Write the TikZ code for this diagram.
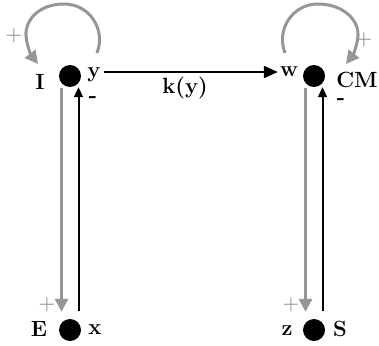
\documentclass[tikz,border=0pt]{standalone}
\usepackage{fontspec}
\usetikzlibrary{arrows.meta}
\definecolor{gr}{RGB}{150,150,150}
\begin{document}
\begin{tikzpicture}[x=1pt,y=-1pt,
  dot/.style={circle,fill=black,minimum size=22pt,inner sep=0pt},
  lab/.style={font=\fontsize{22}{26}\selectfont\bfseries,inner sep=0pt},
  sgn/.style={font=\fontsize{19}{22}\selectfont\bfseries,text=gr,inner sep=0pt},
  mns/.style={font=\fontsize{22}{26}\selectfont\bfseries,inner sep=0pt},
  garr/.style={draw=gr,line width=3pt,-{Triangle[length=13pt,width=13pt]}},
  barr/.style={draw=black,line width=2pt,-{Triangle[length=10pt,width=9pt]}},
  harr/.style={draw=black,line width=2pt,-{Triangle[length=14pt,width=12pt]}},
]
\useasboundingbox (0,0) rectangle (379,345);
% dots
\node[dot] (dI) at (70,76) {};
\node[dot] (dC) at (314,76) {};
\node[dot] (dE) at (70,330) {};
\node[dot] (dS) at (314,330) {};
% labels
\node[lab] (lI) at (40,82) {I};
\node[lab] (ly) at (94,75) {y};
\node[lab] (lw) at (289,72) {w};
\node[lab] (lCM) at (357,80) {CM};
\node[lab] (lE) at (39,329) {E};
\node[lab] (lx) at (95,330) {x};
\node[lab] (lz) at (287,331) {z};
\node[lab] (lS) at (340,329) {S};
\node[lab] (lk) at (185,88) {k(y)};
% signs
\node[sgn] (p1) at (14,36) {+};
\node[sgn] (p2) at (364,40) {+};
\node[sgn] (p3) at (47,305) {+};
\node[sgn] (p4) at (291,305) {+};
\node[mns] (m1) at (93,100) {-};
\node[mns] (m2) at (341,102) {-};
% self loops
\coordinate (s1) at (97,53);
\coordinate (e1) at (38,64);
\coordinate (s2) at (285,53);
\coordinate (e2) at (346,64);
\draw[garr] (s1) .. controls (106,30) and (90,4) .. (64,4)
  .. controls (40,4) and (25,19) .. (26,36)
  .. controls (27,46) and (31,55) .. (e1);
\draw[garr] (s2) .. controls (276,30) and (292,4) .. (318,4)
  .. controls (342,4) and (359,19) .. (358,36)
  .. controls (357,46) and (353,55) .. (e2);
% horizontal arrow
\draw[harr] ([xshift=3pt]ly.east |- lw.west) -- ([xshift=-2pt]lw.west);
% vertical arrows
\draw[garr,shorten <=1pt,shorten >=7pt] ([xshift=-8.5pt]dI.south) -- ([xshift=-8.5pt]dE.north);
\draw[barr,shorten <=7.5pt] ([xshift=8.5pt]dE.north) -- ([xshift=8.5pt]dI.south);
\draw[garr,shorten <=1pt,shorten >=7pt] ([xshift=-8.5pt]dC.south) -- ([xshift=-8.5pt]dS.north);
\draw[barr,shorten <=7.5pt] ([xshift=8.5pt]dS.north) -- ([xshift=8.5pt]dC.south);
\end{tikzpicture}
\end{document}
